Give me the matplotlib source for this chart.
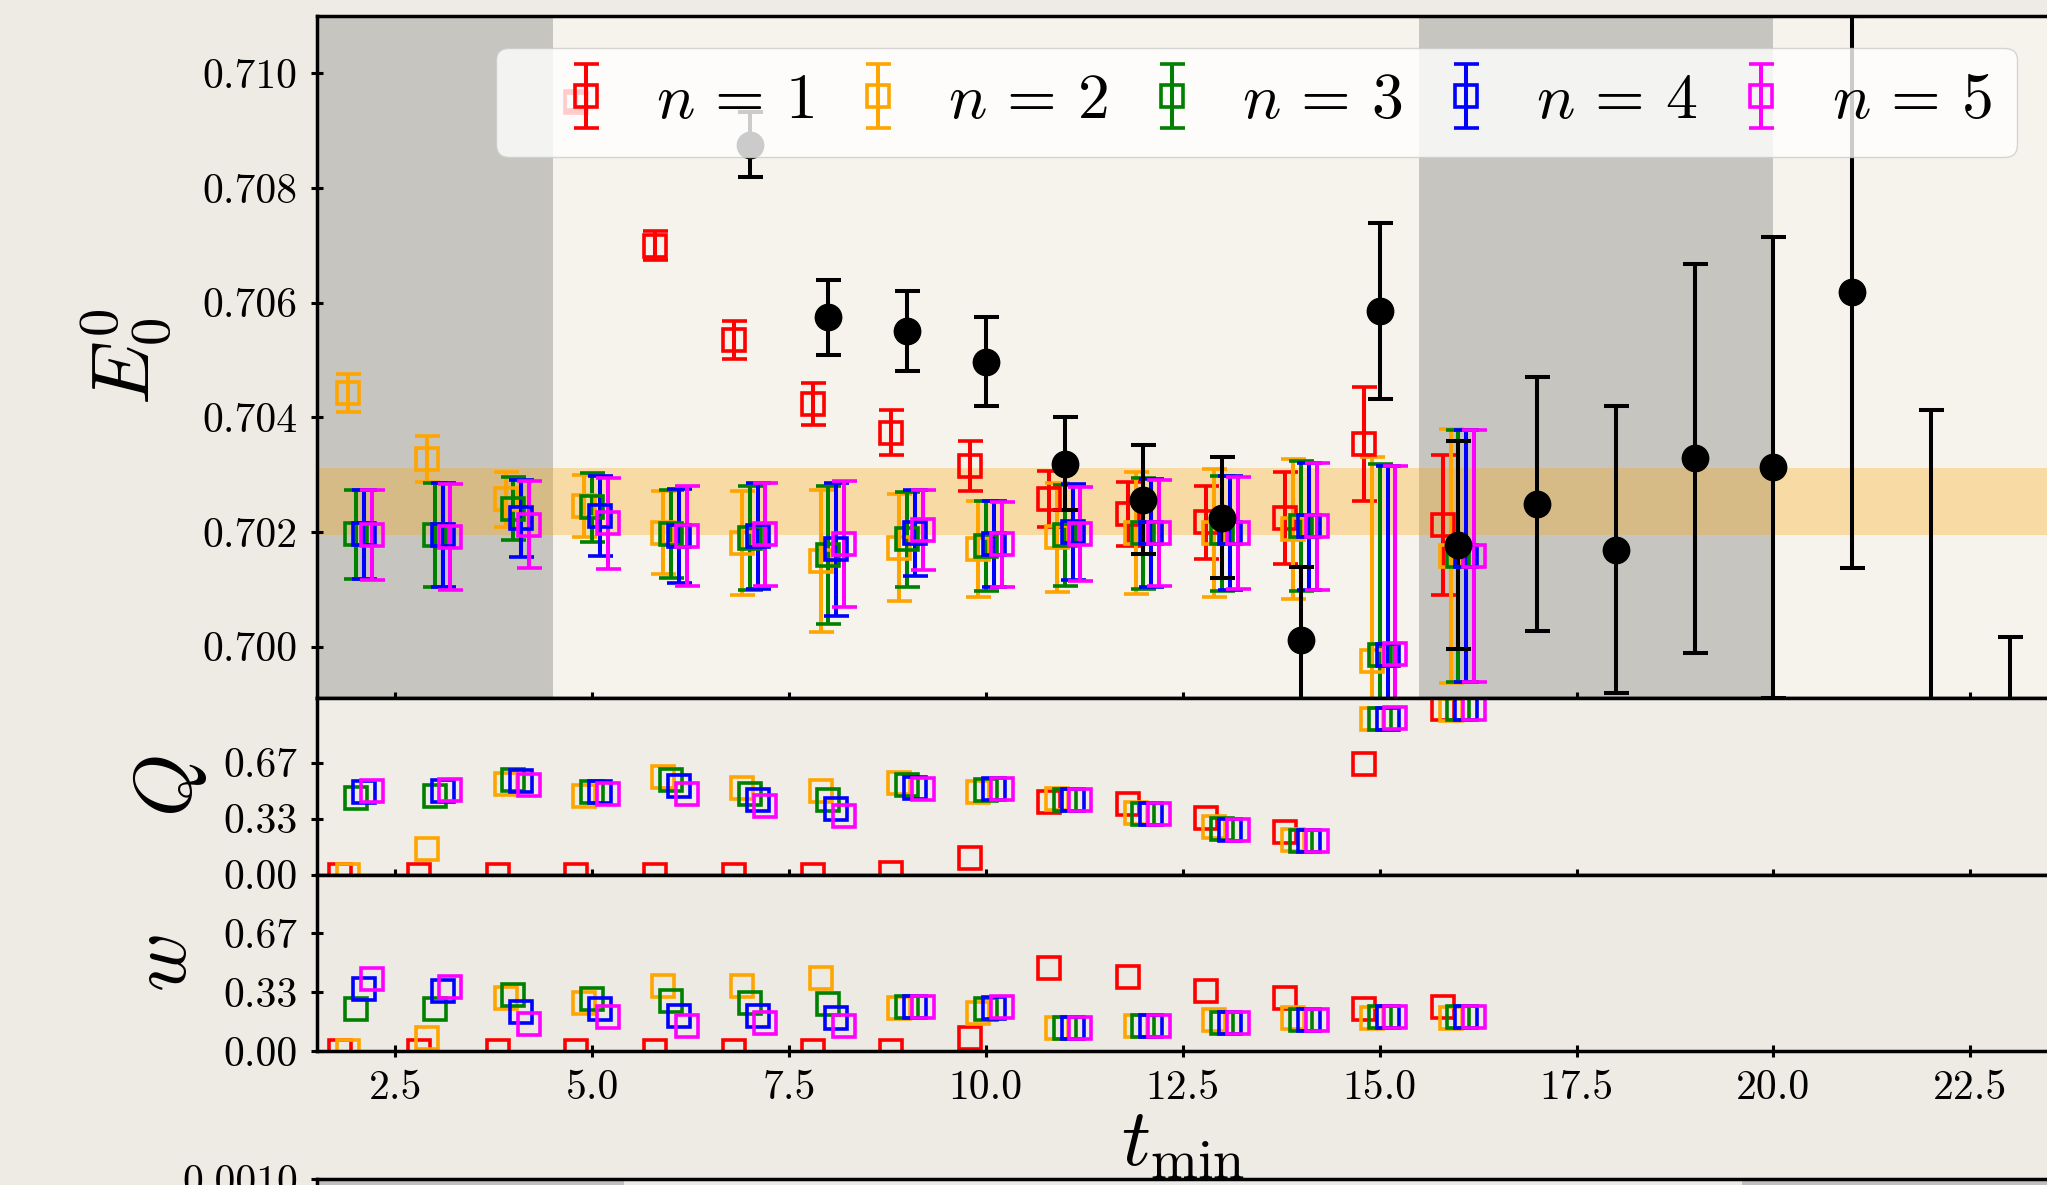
import numpy as np
import matplotlib
matplotlib.use("Agg")
import matplotlib.pyplot as plt
from matplotlib.ticker import FixedLocator, FormatStrFormatter

plt.rcParams.update({
    "font.family": "serif",
    "font.serif": ["cmr10"],
    "mathtext.fontset": "cm",
    "axes.unicode_minus": False,
    "axes.formatter.use_mathtext": True,
})

# ---------------- data ----------------
t_min = np.arange(2, 17)
series_labels = ["$n\\,=\\,1$", "$n\\,=\\,2$", "$n\\,=\\,3$", "$n\\,=\\,4$", "$n\\,=\\,5$"]
series_colors = ["red", "orange", "green", "blue", "magenta"]
x_shift = [-0.2, -0.1, 0.0, 0.1, 0.2]

E0_n1 = [0.7215, 0.7160, 0.7122, 0.7095, 0.70699, 0.70535, 0.70423, 0.70373, 0.70315,
         0.70257, 0.70231, 0.70217, 0.70225, 0.70353, 0.70212]
E0_n1_err = [0.0003, 0.0002, 0.00015, 0.00015, 0.00025, 0.00033, 0.00036, 0.00039, 0.00044,
             0.00049, 0.00056, 0.00064, 0.0008, 0.00099, 0.00122]
E0_n2 = [0.70443, 0.70327, 0.70257, 0.70245, 0.70199, 0.70181, 0.70149, 0.70173, 0.7017,
         0.70191, 0.70198, 0.70198, 0.70206, 0.69975, 0.70158]
E0_n2_err = [0.00033, 0.0004, 0.00048, 0.00054, 0.00073, 0.00091, 0.00124, 0.00093, 0.00084,
             0.00095, 0.00106, 0.00112, 0.00122, 0.00355, 0.00222]
E0_n3 = [0.70196, 0.70195, 0.70241, 0.70243, 0.70196, 0.7019, 0.7016, 0.70187, 0.70176,
         0.70194, 0.70198, 0.70198, 0.7021, 0.69985, 0.70158]
E0_n3_err = [0.00078, 0.00091, 0.00055, 0.0006, 0.00077, 0.00091, 0.0012, 0.00082, 0.00078,
             0.00088, 0.00097, 0.001, 0.00113, 0.00333, 0.0022]
E0_n4 = [0.70196, 0.70195, 0.70224, 0.70228, 0.70193, 0.70193, 0.7017, 0.70199, 0.70179,
         0.702, 0.70198, 0.70198, 0.7021, 0.69985, 0.70158]
E0_n4_err = [0.00078, 0.0009, 0.00067, 0.0007, 0.00082, 0.00092, 0.00116, 0.00075, 0.00075,
             0.00084, 0.00094, 0.00099, 0.00111, 0.0033, 0.0022]
E0_n5 = [0.70195, 0.70191, 0.70213, 0.70215, 0.70193, 0.70196, 0.70179, 0.70203, 0.70179,
         0.70196, 0.70198, 0.70198, 0.7021, 0.69987, 0.70158]
E0_n5_err = [0.00078, 0.00092, 0.00076, 0.00079, 0.00087, 0.0009, 0.0011, 0.0007, 0.00074,
             0.00082, 0.00092, 0.00098, 0.00111, 0.00328, 0.0022]

Q_n1 = [0.0, 0.0, 0.0, 0.0, 0.0, 0.0, 0.0, 0.01, 0.10, 0.431, 0.418, 0.338, 0.252, 0.66, 0.989]
Q_n2 = [0.0, 0.153, 0.541, 0.471, 0.581, 0.517, 0.497, 0.545, 0.491, 0.451, 0.368, 0.282, 0.207, 0.925, 0.979]
Q_n3 = [0.458, 0.467, 0.561, 0.491, 0.561, 0.481, 0.442, 0.531, 0.505, 0.446, 0.358, 0.272, 0.199, 0.929, 0.989]
Q_n4 = [0.491, 0.497, 0.557, 0.491, 0.525, 0.446, 0.392, 0.515, 0.511, 0.446, 0.358, 0.268, 0.199, 0.929, 0.989]
Q_n5 = [0.497, 0.505, 0.533, 0.481, 0.481, 0.408, 0.346, 0.507, 0.511, 0.446, 0.358, 0.268, 0.199, 0.933, 0.989]

w_n1 = [0.0, 0.0, 0.0, 0.0, 0.0, 0.0, 0.0, 0.0, 0.075, 0.469, 0.419, 0.339, 0.298, 0.237, 0.248]
w_n2 = [0.0, 0.075, 0.302, 0.274, 0.369, 0.367, 0.413, 0.242, 0.215, 0.131, 0.144, 0.177, 0.187, 0.187, 0.187]
w_n3 = [0.237, 0.237, 0.317, 0.294, 0.283, 0.27, 0.265, 0.248, 0.237, 0.131, 0.14, 0.159, 0.173, 0.192, 0.192]
w_n4 = [0.349, 0.339, 0.223, 0.237, 0.2, 0.196, 0.187, 0.248, 0.242, 0.131, 0.14, 0.159, 0.173, 0.192, 0.192]
w_n5 = [0.41, 0.36, 0.155, 0.19, 0.144, 0.159, 0.14, 0.248, 0.248, 0.131, 0.14, 0.159, 0.173, 0.192, 0.192]

# model-averaged single-exponential fits
t_avg = np.arange(7, 24)
E0_avg = [0.70875, 0.70574, 0.70551, 0.70497, 0.70319, 0.70256, 0.70225, 0.70012, 0.70585,
          0.70177, 0.70249, 0.70169, 0.70329, 0.70313, 0.70619, 0.69832, 0.69337]
E0_avg_err = [0.00057, 0.00066, 0.0007, 0.00078, 0.00081, 0.00095, 0.00106, 0.00127, 0.00153,
              0.00181, 0.00222, 0.0025, 0.00339, 0.00402, 0.00481, 0.00581, 0.0068]

band_lo, band_hi = 0.70195, 0.70311
excluded_ranges = [(0.0, 4.5), (15.5, 20.0)]

E0_all = [E0_n1, E0_n2, E0_n3, E0_n4, E0_n5]
E0_err_all = [E0_n1_err, E0_n2_err, E0_n3_err, E0_n4_err, E0_n5_err]
Q_all = [Q_n1, Q_n2, Q_n3, Q_n4, Q_n5]
w_all = [w_n1, w_n2, w_n3, w_n4, w_n5]

# ---------------- figure ----------------
W, H = 2047, 1185
fig = plt.figure(figsize=(W / 100, H / 100), dpi=100, facecolor="#eeebe4")


def frame(top, bottom, left=316.5, right=2049):
    return [left / W, 1 - bottom / H, (right - left) / W, (bottom - top) / H]


ax0 = fig.add_axes(frame(15.7, 698.4), facecolor="#f6f3ec")
ax1 = fig.add_axes(frame(698.4, 874.5), facecolor="#f0ede7", sharex=ax0)
ax2 = fig.add_axes(frame(874.5, 1051.0), facecolor="#edeae4", sharex=ax0)
ax3 = fig.add_axes(frame(1179.0, 1600.0), facecolor="#eceae4", sharex=ax0)

mk = dict(fmt="s", ms=16, mew=2.6, mfc="none", elinewidth=2.9, capsize=9, capthick=2.9)

for lo, hi in excluded_ranges:
    ax0.axvspan(lo, hi, color="gray", alpha=0.4, lw=0, zorder=0)
ax0.axhspan(band_lo, band_hi, color="orange", alpha=0.3, lw=0, zorder=0.5)

for k in range(5):
    xs = t_min + x_shift[k]
    ax0.errorbar(xs, E0_all[k], yerr=E0_err_all[k], color=series_colors[k],
                 label=series_labels[k], **mk)
    ax1.plot(xs, Q_all[k], "s", ms=16, mew=2.6, mfc="none", color=series_colors[k])
    ax2.plot(xs, w_all[k], "s", ms=16, mew=2.6, mfc="none", color=series_colors[k])

ax0.errorbar(t_avg, E0_avg, yerr=E0_avg_err, fmt="o", color="black", ms=19,
             elinewidth=2.9, capsize=9, capthick=2.9)

ax0.set_xlim(1.5, 23.5)
ax0.set_ylim(0.6991, 0.7110)
ax1.set_ylim(0.0, 1.05)
ax2.set_ylim(0.0, 1.0)
ax3.set_ylim(-0.004, 0.0010)

ax3.axvspan(0.0, 5.4, color="gray", alpha=0.4, lw=0)
ax3.axvspan(19.6, 25.0, color="gray", alpha=0.4, lw=0)

ax0.yaxis.set_major_locator(FixedLocator([0.700, 0.702, 0.704, 0.706, 0.708, 0.710]))
ax0.yaxis.set_major_formatter(FormatStrFormatter("%.3f"))
for ax in (ax1, ax2):
    ax.yaxis.set_major_locator(FixedLocator([0.0, 1 / 3, 2 / 3]))
    ax.yaxis.set_major_formatter(FormatStrFormatter("%.2f"))
ax3.yaxis.set_major_locator(FixedLocator([0.0010]))
ax3.yaxis.set_major_formatter(FormatStrFormatter("%.4f"))
ax2.xaxis.set_major_locator(FixedLocator([2.5, 5.0, 7.5, 10.0, 12.5, 15.0, 17.5, 20.0, 22.5]))
ax2.xaxis.set_major_formatter(FormatStrFormatter("%.1f"))

for ax in (ax0, ax1, ax2, ax3):
    for s in ax.spines.values():
        s.set_linewidth(2.5)
    ax.tick_params(direction="inout", length=9, width=2.2, labelsize=30, pad=9)
for ax in (ax0, ax1, ax3):
    ax.tick_params(axis="x", labelbottom=False)
ax3.tick_params(axis="x", bottom=False)

ax0.set_ylabel("$E_0^0$", fontsize=58)
ax1.set_ylabel("$Q$", fontsize=58)
ax2.set_ylabel("$w$", fontsize=58)
ax0.yaxis.set_label_coords(-0.083, 0.5)
ax1.yaxis.set_label_coords(-0.062, 0.5)
ax2.yaxis.set_label_coords(-0.066, 0.5)
ax2.set_xlabel("$t_{\\mathrm{min}}$", fontsize=58)
ax2.xaxis.set_label_coords(0.5, -0.33)

ax0.legend(loc="upper right", ncol=5, fontsize=46, handlelength=2.0,
           handletextpad=0.1, columnspacing=0.0, borderaxespad=0.5)

fig.savefig("out.png", dpi=100, facecolor=fig.get_facecolor())
